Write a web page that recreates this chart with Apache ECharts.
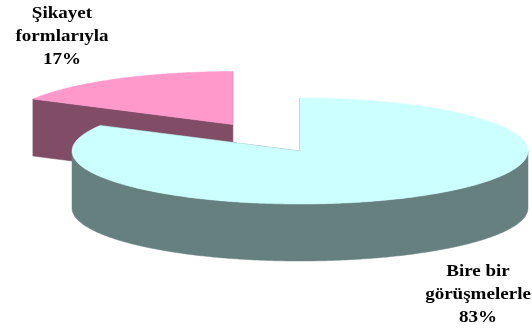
<!DOCTYPE html>
<html>
<head>
<meta charset="utf-8">
<style>
  html, body { margin: 0; padding: 0; background: #ffffff; }
  #chart { width: 532px; height: 331px; }
</style>
<script src="https://cdn.jsdelivr.net/npm/echarts@6/dist/echarts.min.js"></script>
</head>
<body>
<div id="chart"></div>
<script>
// Slice names (line break as printed) and their shares in percent
const categories = ['Bire bir\ngörüşmelerle', 'Şikayet\nformlarıyla'];
const shares = [83, 17];

// Face colours: lit top and shaded sides
const topColors = ['#CCFFFF', '#FF99CC'];
const sideColors = ['#668080', '#804C66'];

// Tilted-disc geometry (px) and how far each slice is pulled out
const PIE = { cx: 300, cy: 151, rx: 228, ry: 53, depth: 57 };
const EXPLODE = [0, 0.58];
// Label anchor points (centre of the text block)
const LABEL_POS = [[478, 295], [62, 37]];
const LABEL_FONT = { size: 17, lineHeight: 23, stretch: 1.12 };

const total = shares.reduce((a, b) => a + b, 0);
const TWO_PI = Math.PI * 2;

function sliceAngles(i) {
  let start = 0;
  for (let k = 0; k < i; k++) start += shares[k] / total * TWO_PI;
  const end = start + shares[i] / total * TWO_PI;
  return [start, end];
}

// Slices further back are painted first
function frontRank(i) {
  const f = j => { const [a, b] = sliceAngles(j); return -Math.cos((a + b) / 2); };
  let r = 0;
  for (let j = 0; j < shares.length; j++) if (f(j) < f(i)) r++;
  return r;
}

function renderItem(params, api) {
  const i = params.dataIndex;
  const value = api.value(0);
  const [start, end] = sliceAngles(i);
  const mid = (start + end) / 2;
  const cx = PIE.cx + EXPLODE[i] * PIE.rx * Math.sin(mid);
  const cy = PIE.cy - EXPLODE[i] * PIE.ry * Math.cos(mid);
  const D = PIE.depth;
  // angle measured clockwise from 12 o'clock
  const pt = (a, dz) => [cx + PIE.rx * Math.sin(a), cy - PIE.ry * Math.cos(a) + dz];
  const arc = (a0, a1, dz) => {
    const n = Math.max(2, Math.ceil((a1 - a0) / 0.01));
    const pts = [];
    for (let s = 0; s <= n; s++) pts.push(pt(a0 + (a1 - a0) * s / n, dz));
    return pts;
  };
  const zBase = frontRank(i) * 10;
  const side = { fill: sideColors[i], stroke: sideColors[i], lineWidth: 0.5 };
  const children = [];

  // cut faces along both radii
  [start, end].forEach(a => {
    const p = pt(a, 0);
    children.push({
      type: 'polygon', z2: zBase + 1,
      shape: { points: [[cx, cy], p, [p[0], p[1] + D], [cx, cy + D]] },
      style: side
    });
  });

  // rim, only where it faces the viewer
  const w0 = Math.max(start, Math.PI / 2);
  const w1 = Math.min(end, Math.PI * 1.5);
  if (w1 > w0) {
    children.push({
      type: 'polygon', z2: zBase + 2,
      shape: { points: arc(w0, w1, 0).concat(arc(w0, w1, D).reverse()) },
      style: side
    });
  }

  // top face
  children.push({
    type: 'polygon', z2: zBase + 3,
    shape: { points: [[cx, cy]].concat(arc(start, end, 0)) },
    style: { fill: topColors[i], stroke: topColors[i], lineWidth: 0.5 }
  });

  // label: name + share
  const pct = Math.round(value / total * 100) + '%';
  children.push({
    type: 'text', z2: 100,
    x: LABEL_POS[i][0], y: LABEL_POS[i][1],
    scaleX: LABEL_FONT.stretch,
    style: {
      text: categories[i] + '\n' + pct,
      fill: '#000000',
      fontFamily: '"Liberation Serif", "Times New Roman", serif',
      fontWeight: 'bold',
      fontSize: LABEL_FONT.size,
      lineHeight: LABEL_FONT.lineHeight,
      align: 'center',
      verticalAlign: 'middle'
    }
  });

  return { type: 'group', children };
}

const chart = echarts.init(document.getElementById('chart'), null, { renderer: 'canvas' });
chart.setOption({
  animation: false,
  backgroundColor: '#ffffff',
  series: [{
    type: 'custom',
    coordinateSystem: 'none',
    renderItem,
    data: shares.map((v, i) => ({ name: categories[i], value: [v] }))
  }]
});
</script>
</body>
</html>
